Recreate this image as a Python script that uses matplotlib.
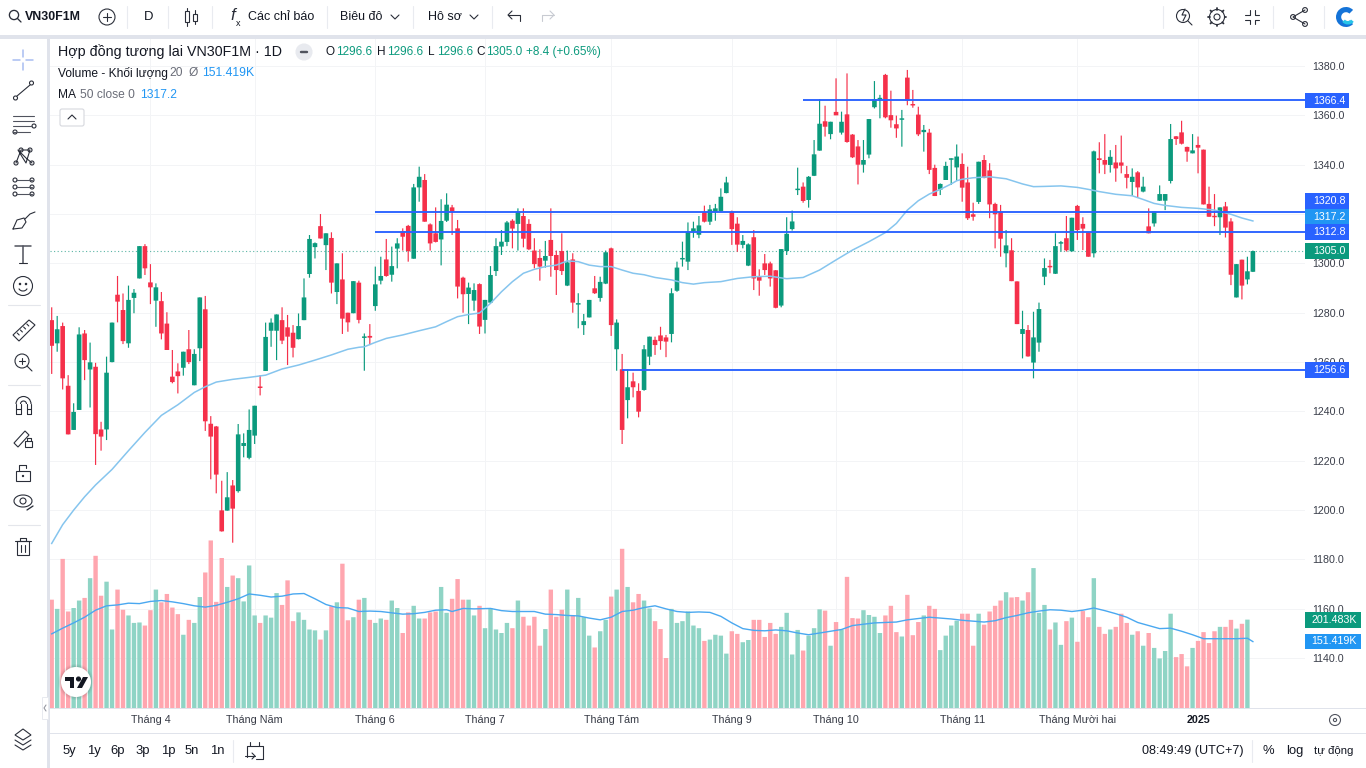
import numpy as np
import matplotlib
matplotlib.use("Agg")
import matplotlib.pyplot as plt
from matplotlib.patches import Circle, Rectangle, FancyBboxPatch, Polygon, Wedge, Arc

plt.rcParams['font.family'] = ['Liberation Sans', 'DejaVu Sans']

opens = [
1277.0,1267.6,1274.6,1250.4,1232.5,1240.6,1271.6,1257.0,1258.1,1232.7,
1232.7,1260.0,1287.3,1281.1,1267.6,1286.0,1293.9,1307.0,1292.3,1284.9,
1284.7,1275.6,1254.1,1256.2,1257.7,1265.2,1250.6,1265.6,1281.4,1235.0,
1233.9,1199.9,1199.8,1210.0,1207.7,1226.0,1221.2,1230.2,1250.0,1256.4,
1272.7,1272.7,1277.0,1274.1,1271.9,1269.3,1277.0,1295.7,1306.6,1315.1,
1307.4,1310.3,1288.4,1293.5,1280.0,1279.8,1292.2,1269.8,1270.6,1282.7,
1293.0,1301.6,1295.4,1306.0,1313.0,1315.2,1301.9,1330.8,1333.8,1315.8,
1312.2,1309.7,1317.3,1322.7,1314.2,1294.2,1287.6,1284.9,1291.6,1277.1,
1284.1,1296.9,1306.8,1308.7,1317.3,1316.0,1319.2,1316.0,1305.2,1302.2,
1301.1,1309.5,1303.4,1305.0,1291.0,1301.6,1283.3,1275.0,1278.1,1289.9,
1286.0,1291.8,1306.1,1265.2,1257.1,1244.6,1252.2,1248.3,1248.7,1262.2,
1269.0,1270.8,1270.0,1271.4,1288.9,1301.6,1300.7,1312.9,1311.6,1320.8,
1316.9,1320.9,1321.2,1328.5,1320.9,1316.1,1307.5,1299.1,1310.6,1294.6,
1300.0,1300.0,1297.2,1282.9,1305.0,1313.9,1329.7,1331.1,1325.7,1335.5,
1345.7,1357.6,1352.4,1361.4,1353.0,1360.4,1352.2,1347.4,1340.0,1344.1,
1363.3,1366.5,1376.4,1360.1,1356.4,1358.2,1375.3,1364.6,1360.3,1353.2,
1353.0,1338.7,1329.9,1333.8,1342.0,1338.9,1340.3,1332.8,1319.9,1324.9,
1341.9,1337.7,1324.1,1321.0,1304.1,1305.3,1292.7,1271.4,1273.0,1259.8,
1267.9,1294.6,1298.9,1295.8,1308.0,1310.2,1304.9,1323.3,1316.0,1312.6,
1304.1,1342.6,1341.9,1339.9,1340.9,1340.9,1336.2,1333.0,1336.9,1329.1,
1315.0,1316.2,1325.4,1325.4,1333.4,1351.5,1353.1,1347.2,1344.6,1348.0,
1346.1,1324.1,1319.2,1318.7,1323.1,1317.0,1286.2,1301.5,1293.5,1296.6]

highs = [
1282.2,1278.7,1276.0,1254.7,1243.3,1274.1,1273.0,1267.9,1259.7,1235.8,
1262.2,1276.0,1294.9,1287.8,1291.0,1289.6,1307.0,1307.8,1299.7,1291.9,
1288.4,1280.2,1264.9,1259.5,1264.2,1273.0,1265.2,1286.2,1286.8,1238.1,
1234.1,1211.9,1215.4,1212.2,1234.9,1231.1,1240.8,1242.3,1254.7,1276.0,
1277.7,1279.3,1282.2,1279.1,1275.0,1279.7,1293.9,1311.5,1308.5,1320.0,
1312.2,1312.6,1300.0,1304.1,1280.0,1292.8,1293.0,1271.6,1275.4,1298.7,
1302.7,1309.9,1306.8,1310.2,1314.2,1315.6,1332.2,1339.2,1336.2,1316.2,
1322.7,1326.0,1328.4,1323.7,1317.6,1294.6,1292.2,1291.9,1291.9,1285.2,
1298.9,1310.2,1313.5,1317.2,1317.9,1322.3,1322.3,1317.9,1310.2,1305.7,
1309.1,1322.3,1305.2,1312.2,1305.2,1304.1,1287.9,1279.5,1285.2,1294.9,
1294.6,1305.2,1306.4,1277.3,1263.3,1257.1,1255.7,1251.4,1266.9,1270.3,
1270.3,1274.3,1271.0,1289.9,1300.7,1308.8,1316.6,1316.9,1319.2,1323.4,
1323.7,1324.1,1330.4,1335.1,1321.4,1318.7,1311.5,1308.1,1313.5,1297.6,
1303.8,1300.7,1297.3,1305.8,1318.7,1321.4,1338.8,1332.8,1335.4,1350.0,
1366.6,1363.9,1357.4,1375.0,1361.5,1377.0,1352.4,1350.0,1350.0,1358.5,
1373.9,1368.3,1376.8,1370.0,1359.9,1362.2,1378.4,1370.3,1363.5,1356.1,
1354.5,1340.0,1332.4,1341.2,1342.6,1348.2,1344.6,1339.2,1324.6,1341.2,
1343.9,1340.6,1324.6,1323.7,1313.5,1310.2,1292.7,1280.8,1275.0,1280.4,
1284.1,1302.0,1301.4,1312.2,1309.1,1319.2,1318.5,1323.7,1318.7,1312.8,
1345.7,1349.1,1352.4,1345.9,1348.0,1351.8,1339.5,1338.5,1337.4,1335.1,
1322.3,1321.0,1331.6,1328.1,1356.5,1351.6,1357.8,1347.3,1352.4,1351.4,
1346.1,1331.1,1328.1,1322.7,1324.9,1318.3,1299.7,1301.5,1302.7,1305.2]

lows = [
1255.2,1264.2,1248.9,1230.7,1232.5,1240.6,1252.7,1241.6,1218.3,1224.1,
1228.4,1259.9,1276.1,1267.3,1265.8,1279.8,1293.9,1295.3,1283.5,1274.3,
1269.2,1264.9,1251.4,1247.3,1254.5,1259.2,1250.6,1260.4,1232.1,1212.5,
1206.8,1191.3,1199.8,1186.8,1207.1,1221.4,1220.6,1226.8,1246.5,1256.4,
1266.2,1260.8,1267.3,1258.8,1261.9,1269.2,1277.0,1294.2,1302.0,1310.1,
1297.3,1287.8,1283.5,1271.4,1272.3,1279.8,1275.7,1256.5,1266.9,1280.8,
1291.5,1294.6,1292.6,1298.0,1305.2,1300.7,1301.9,1325.0,1316.9,1305.2,
1308.5,1299.2,1316.8,1311.5,1285.8,1280.0,1275.4,1280.8,1271.4,1271.6,
1283.8,1294.9,1303.4,1307.0,1306.1,1305.2,1306.5,1305.4,1298.0,1293.0,
1298.3,1294.6,1287.2,1295.3,1290.8,1280.0,1273.7,1271.0,1278.1,1287.6,
1284.5,1291.6,1270.6,1256.5,1226.8,1237.2,1245.7,1237.6,1248.4,1258.8,
1262.9,1265.0,1262.0,1268.0,1288.5,1298.7,1297.3,1310.4,1310.2,1316.6,
1315.6,1317.3,1320.9,1328.4,1307.5,1304.7,1306.1,1298.9,1289.2,1286.9,
1295.3,1290.6,1281.8,1282.2,1303.4,1313.3,1327.7,1324.6,1322.6,1335.4,
1345.7,1351.4,1350.3,1360.1,1352.2,1348.9,1342.7,1332.0,1336.8,1342.6,
1362.8,1358.8,1358.8,1355.0,1350.9,1347.3,1364.1,1363.1,1351.6,1345.3,
1336.2,1327.3,1327.7,1333.8,1331.8,1333.5,1325.0,1317.6,1317.3,1324.1,
1334.5,1318.3,1306.1,1302.7,1298.4,1292.8,1275.4,1261.5,1262.2,1253.4,
1264.2,1291.2,1296.0,1295.7,1304.8,1304.8,1304.8,1309.5,1305.4,1302.7,
1302.4,1336.5,1336.2,1336.8,1333.1,1336.5,1330.4,1327.4,1326.6,1328.8,
1312.2,1314.9,1325.3,1321.6,1332.4,1348.0,1348.2,1341.2,1344.6,1336.5,
1323.9,1318.9,1315.1,1311.5,1310.5,1291.2,1286.2,1285.4,1291.5,1296.5]

closes = [
1266.6,1273.3,1253.4,1230.7,1239.8,1271.2,1260.8,1259.9,1230.8,1229.8,
1255.7,1276.0,1284.5,1268.5,1285.2,1288.1,1307.0,1298.0,1290.3,1290.3,
1271.6,1264.9,1251.9,1254.3,1264.2,1260.0,1263.3,1286.2,1236.0,1229.8,
1214.4,1191.4,1205.2,1200.6,1230.7,1227.2,1232.5,1242.3,1249.5,1270.2,
1276.0,1279.3,1268.7,1270.3,1265.8,1274.6,1286.2,1309.9,1308.2,1310.1,
1312.2,1292.2,1300.0,1277.6,1276.1,1292.8,1277.1,1270.2,1269.9,1291.5,
1294.9,1294.9,1298.9,1308.1,1310.8,1305.0,1330.8,1335.1,1316.9,1308.1,
1308.7,1317.2,1323.8,1321.0,1290.6,1287.5,1290.2,1289.2,1274.4,1285.2,
1295.3,1307.0,1308.8,1316.6,1314.1,1321.0,1310.0,1305.7,1299.7,1298.7,
1303.0,1303.0,1297.3,1296.9,1300.4,1284.1,1283.7,1276.6,1285.2,1287.9,
1292.5,1304.5,1275.0,1276.0,1232.5,1249.8,1249.8,1239.9,1265.2,1270.3,
1266.9,1268.5,1268.3,1287.9,1298.3,1302.2,1312.9,1314.2,1315.4,1316.9,
1321.9,1322.3,1327.0,1332.8,1313.9,1307.6,1309.1,1307.7,1293.9,1293.0,
1297.3,1293.9,1282.0,1305.8,1312.0,1317.0,1330.3,1325.3,1335.1,1344.2,
1356.6,1355.4,1357.4,1360.0,1357.4,1349.2,1343.0,1340.0,1341.9,1358.5,
1366.5,1366.8,1359.2,1358.0,1354.7,1358.6,1365.9,1364.0,1352.3,1354.1,
1337.9,1327.3,1332.2,1339.5,1342.4,1343.3,1330.7,1318.3,1318.9,1341.2,
1334.6,1323.9,1319.9,1310.0,1307.3,1292.8,1275.4,1273.4,1262.3,1270.0,
1281.5,1298.1,1298.4,1307.0,1308.4,1305.3,1318.5,1313.5,1314.1,1302.7,
1345.4,1341.9,1340.0,1343.2,1338.5,1339.6,1334.7,1335.1,1330.8,1331.1,
1312.2,1321.0,1328.1,1328.1,1350.4,1350.4,1348.5,1345.3,1345.8,1346.9,
1323.9,1318.9,1318.7,1322.7,1314.5,1295.4,1299.7,1291.0,1296.8,1305.0]

volumes_k = [
247,226,340,220,228,245,251,296,347,256,
288,179,270,224,211,194,195,188,223,270,
241,260,229,214,167,201,194,253,309,382,
242,342,276,302,296,243,325,211,194,211,
206,262,235,291,198,218,201,179,177,156,
177,232,241,329,200,207,247,251,201,194,
204,201,245,228,171,218,233,204,204,218,
220,276,217,249,294,247,247,211,233,182,
227,179,171,194,182,245,208,188,208,142,
180,270,208,224,270,211,251,207,165,138,
175,201,254,270,363,276,241,260,245,227,
198,180,114,226,194,198,220,188,182,153,
156,167,165,124,175,169,150,155,201,201,
162,194,169,185,217,122,178,131,165,182,
225,222,142,196,179,299,205,204,223,212,
208,171,211,233,173,163,258,166,196,211,
233,226,132,165,188,199,215,215,142,215,
190,220,233,245,264,252,253,245,264,319,
217,235,179,195,144,198,206,151,221,207,
296,185,169,179,185,215,194,167,175,142,
171,137,113,130,215,116,123,95,137,153,
173,148,175,185,185,201,181,192,201.5]

ma50_bars = [1,3,5,7,9,12,15,18,21,24,27,29,31,34,37,40,43,46,49,52,55,57,58,60,62,65,68,71,73,75,
77,79,81,83,85,87,89,91,93,95,97,99,101,103,105,107,109,111,114,116,118,120,123,126,129,132,135,
138,141,144,147,150,153,155,157,159,161,163,165,166,167,169,172,175,178,180,182,185,188,190,192,
195,198,200,202,204,207,210,213,216,218,220]
ma50_vals = [1186.5,1194.1,1200.0,1205.4,1210.2,1216.5,1224.1,1231.5,1238.4,1242.7,1247.7,1250.0,
1251.9,1253.0,1253.8,1254.7,1257.2,1258.8,1260.8,1262.9,1265.2,1266.0,1266.2,1268.0,1269.6,1271.0,
1272.7,1274.3,1276.4,1278.4,1279.3,1279.9,1283.8,1288.5,1292.6,1296.0,1297.6,1298.7,1299.3,1301.0,
1300.7,1299.3,1298.7,1298.7,1297.3,1296.0,1295.4,1294.3,1293.3,1292.2,1291.6,1292.2,1292.6,1293.9,
1294.6,1294.8,1293.8,1294.3,1297.3,1301.4,1305.4,1308.8,1312.5,1316.2,1321.6,1325.4,1328.1,1330.0,
1332.2,1333.5,1334.1,1334.7,1335.1,1334.3,1332.2,1331.1,1331.2,1331.4,1330.8,1330.0,1329.1,1328.0,
1327.4,1325.9,1324.3,1323.5,1322.7,1322.3,1321.6,1319.9,1318.4,1317.2]

vol_ma_bars = [1,3,5,7,9,11,13,15,17,19,21,23,25,27,29,31,33,35,37,39,41,43,45,47,49,51,53,55,57,59,
61,63,65,67,69,71,73,74,76,78,81,83,85,87,89,91,93,95,97,99,101,103,105,107,109,111,113,115,117,119,
121,123,125,127,129,131,133,135,137,139,141,143,145,147,149,151,153,155,157,159,161,163,165,167,169,
171,173,175,177,179,181,183,185,187,189,191,193,195,197,199,201,203,205,207,209,211,213,215,217,219,220]
vol_ma_vals = [169,182,194,207,223,233,235,239,238,243,245,242,238,233,230,234,241,249,260,257,253,255,
260,261,249,236,229,228,220,221,220,217,214,215,218,223,224,220,227,226,227,222,220,220,220,214,213,
211,210,205,201,207,220,223,229,233,226,220,218,219,218,209,194,181,177,176,178,176,171,167,171,175,
179,188,191,194,195,196,201,204,207,205,203,200,198,196,199,206,211,217,221,224,223,220,223,228,222,
215,207,195,188,181,182,175,167,158,158,158,158,159,151.4]

price_ticks = [1140,1160,1180,1200,1220,1240,1260,1280,1300,1320,1340,1360,1380]
hlines = {"1366.4": (1366.4, 138), "1320.8": (1320.8, 60), "1312.8": (1312.8, 60), "1256.6": (1256.6, 105)}
month_bars = [19, 38, 60, 80, 103, 125, 144, 167, 188, 210]
month_labels = ["Tháng 4", "Tháng Năm", "Tháng 6", "Tháng 7", "Tháng Tám", "Tháng 9",
                "Tháng 10", "Tháng 11", "Tháng Mười hai", "2025"]
last_close = 1305.0

W, H = 1366, 768
RED, GREEN = "#F5304A", "#0B9A7D"
VRED, VGREEN = "#FFA6AF", "#8FD4C5"
BLUE, LBLUE = "#2962FF", "#2196F3"
DARK, GRAY = "#131722", "#6A6D78"
BAND = "#E0E3EB"
GRID = "#F3F4F6"
PX = 0.72  # one pixel in points at dpi 100

fig = plt.figure(figsize=(W/100, H/100), dpi=100, facecolor="white")
L, R, T, B = 50, 1305, 38, 708
rect = [L/W, 1-B/H, (R-L)/W, (B-T)/H]
ax_v = fig.add_axes(rect, facecolor="white", zorder=1)
ax = fig.add_axes(rect, facecolor="none", zorder=2)

x = np.arange(1, len(closes)+1)
xlim = (0.69, 229.5)
for a in (ax_v, ax):
    a.set_xlim(*xlim)
    for s in a.spines.values():
        s.set_visible(False)
# scales: 2.467 px per price point and about 2.28 thousand contracts per px
ax.set_ylim(1119.8, 1391.35)
ax_v.set_ylim(0, 1527.6)

# grid (drawn under volume)
ax_v.set_yticks([])
ax_v.set_xticks([])
for b in month_bars:
    ax_v.axvline(b, color=GRID, lw=PX, zorder=0)
for p in price_ticks:
    frac = (p-1119.8)/(1391.35-1119.8)
    ax_v.axhline(frac*1527.6, color=GRID, lw=PX, zorder=0)

# volume
o = np.array(opens); c = np.array(closes); h = np.array(highs); l = np.array(lows)
v = np.array(volumes_k)
vx = x[:len(v)]
vbars = ax_v.bar(vx, v, width=0.8, color=[VGREEN if c[i] >= o[i] else VRED for i in range(len(v))],
                 linewidth=0, zorder=1)
for r_ in vbars:
    r_.set_snap(False)
ax_v.plot(vol_ma_bars, vol_ma_vals, color="#4AA8F0", lw=1.0, zorder=2)

# price axis
ax.set_xticks([])
ax.yaxis.tick_right()
ax.set_yticks(price_ticks)
ax.set_yticklabels([f"{p:.1f}" for p in price_ticks], fontsize=7.7, color="#3A3E4A")
ax.tick_params(axis="y", length=0, pad=5.4)

# candles
col = np.where(c >= o, GREEN, RED)
wk = ax.vlines(x, l, h, colors=col, lw=0.85, zorder=3)
wk.set_snap(False)
body_top = np.maximum(o, c); body_bot = np.minimum(o, c)
cbars = ax.bar(x, np.maximum(body_top-body_bot, 0.6), bottom=body_bot, width=0.84, color=col, linewidth=0, zorder=4)
for r_ in cbars:
    r_.set_snap(False)

ax.plot(ma50_bars, ma50_vals, color="#86C5EE", lw=1.1, zorder=5)
ax.axhline(last_close, color="#5BB5A5", lw=0.8, ls=(0, (1, 2.2)), zorder=2)
for name, (val, start) in hlines.items():
    ax.plot([start, xlim[1]], [val, val], color=BLUE, lw=1.35, zorder=6, solid_capstyle="butt")

# ---------- interface layer, in pixel coordinates ----------
ui = fig.add_axes([0, 0, 1, 1], facecolor="none", zorder=5)
ui.set_xlim(0, W); ui.set_ylim(H, 0); ui.axis("off")

def txt(px, py, s, size=12, color=DARK, ha="left", weight="normal", **k):
    return ui.text(px, py, s, fontsize=size*0.72, color=color, ha=ha, va="center", fontweight=weight, **k)

def ln(xs, ys, color="#2A2E39", lw=1.0, **k):
    ui.plot(xs, ys, color=color, lw=lw*PX*1.1, solid_capstyle="round", **k)

def circ(cx, cy, r, color="#2A2E39", fc="none", lw=1.0):
    ui.add_patch(Circle((cx, cy), r, ec=color, fc=fc, lw=lw*PX*1.1))

def box(x0, y0, x1, y1, fc, ec="none"):
    ui.add_patch(Rectangle((x0, y0), x1-x0, y1-y0, fc=fc, ec=ec, lw=0.7))

# bands
box(0, 35, W, 38.5, BAND)
box(47, 38, 49.5, H, BAND)
box(50, 708, W, 709, BAND)
box(50, 733, W, 734, BAND)

# top toolbar
for sx in [127, 168, 212, 327, 413, 492, 1163, 1273, 1324]:
    ln([sx, sx], [6, 28], color="#E9EBF0")
circ(14, 15, 4.6, lw=1.2); ln([17.4, 21], [18.4, 22], lw=1.2)
txt(25, 17, "VN30F1M", 12.4, weight="bold")
circ(107, 17, 8); ln([103, 111], [17, 17]); ln([107, 107], [13, 21])
txt(149, 17, "D", 13, ha="center")
# candle icon
ln([187, 187], [8, 26]); ui.add_patch(Rectangle((185, 11), 4, 11, fc="white", ec="#2A2E39", lw=0.8, zorder=5))
ln([195, 195], [10, 24]); ui.add_patch(Rectangle((193, 14), 4, 7, fc="white", ec="#2A2E39", lw=0.8, zorder=5))
txt(233, 15, "f", 17, ha="center", style="italic", color="#2A2E39"); txt(238, 24, "x", 9, ha="center")
txt(248, 17, "Các chỉ báo", 12.5)
txt(340, 17, "Biêu đô", 12.5); ln([391, 395, 399], [15, 19, 15])
txt(428, 17, "Hô sơ", 12.5); ln([470, 474, 478], [15, 19, 15])
ln([508, 520, 520], [15, 15, 21]); ln([512, 508, 512], [11, 15, 19])
ln([554, 542, 542], [15, 15, 21], color="#C8CBD2"); ln([550, 554, 550], [11, 15, 19], color="#C8CBD2")
# right icons
circ(1183, 16, 6.5); ln([1188, 1192], [21, 25]); ln([1185, 1182, 1186, 1183], [9, 15, 15, 21], color="#2A2E39")
circ(1217, 17, 3); circ(1217, 17, 7.5)
for ang in np.arange(0, 360, 45):
    ca, sa = np.cos(np.radians(ang)), np.sin(np.radians(ang))
    ln([1217+7.5*ca, 1217+9.2*ca], [17+7.5*sa, 17+9.2*sa], lw=1.6)
for sx, sy in [(-1, -1), (1, -1), (-1, 1), (1, 1)]:
    ln([1252+sx*7, 1252+sx*2.5, 1252+sx*2.5], [17+sy*2.5, 17+sy*2.5, 17+sy*7])
ln([1305, 1293, 1305], [10, 17, 24]);
for cx, cy in [(1305, 10), (1293, 17), (1305, 24)]:
    circ(cx, cy, 2.4, fc="white")
ui.add_patch(Wedge((1346, 17), 10, 45, 315, width=5.2, fc="#1473D8", ec="none"))
ui.add_patch(Wedge((1348, 17), 7.5, 40, 140, width=3.5, fc="#27C4E8", ec="none"))

# legend
txt(58, 52, "Hợp đồng tương lai VN30F1M · 1D", 14.2)
circ(304, 52, 8, color="#E8EAEF", fc="#E8EAEF"); ln([301, 307], [52, 52], color="#50535E", lw=2.2)
for px, s, cl in [(326, "O", DARK), (336.5, "1296.6", GREEN), (377, "H", DARK), (387, "1296.6", GREEN),
                  (428, "L", DARK), (437, "1296.6", GREEN), (476, "C", DARK), (486.5, "1305.0", GREEN),
                  (526, "+8.4 (+0.65%)", GREEN)]:
    txt(px, 52, s, 11.7, color=cl)
txt(58, 73, "Volume - Khối lượng", 12)
txt(169, 73, "20", 12, color=GRAY); txt(189, 73, "Ø", 12, color=GRAY)
txt(202, 73, "151.419K", 12.2, color=LBLUE)
txt(58, 95, "MA", 12); txt(80, 95, "50 close 0", 12, color=GRAY); txt(140, 95, "1317.2", 12, color=LBLUE)
ui.add_patch(FancyBboxPatch((60, 109), 24, 17, boxstyle="round,pad=0,rounding_size=2", fc="white", ec="#D6D8DE", lw=0.8))
ln([68, 72, 76], [119, 115, 119])

# price labels
for y0, y1, s, fc, xr in [(93, 108, "1366.4", BLUE, 1349), (193, 209, "1320.8", BLUE, 1349),
                          (209, 225, "1317.2", LBLUE, 1349), (224, 240, "1312.8", BLUE, 1349),
                          (243, 259, "1305.0", GREEN, 1349), (362, 378, "1256.6", BLUE, 1349),
                          (612, 628, "201.483K", GREEN, 1361), (634, 649, "151.419K", LBLUE, 1361)]:
    box(1305, y0, xr, y1, fc)
    txt(1313 if xr == 1349 else 1311.5, (y0+y1)/2, s, 10.6, color="white")

# bottom axis labels
frac_x = lambda b: L + (b-xlim[0])/(xlim[1]-xlim[0])*(R-L)
for b, s in zip(month_bars, month_labels):
    bold = s == "2025"
    txt(frac_x(b), 720, s, 10.7, color="#363A45" if not bold else DARK, ha="center", weight="bold" if bold else "normal")
circ(1335, 720, 5.5, color="#50535E"); circ(1335, 720, 1.6, color="#50535E")

# bottom bar
for px, s in zip([69, 94, 118, 143, 168, 192, 217], ["5y", "1y", "6p", "3p", "1p", "5n", "1n"]):
    txt(px, 751, s, 13, ha="center")
ln([233, 233], [740, 762], color="#E9EBF0")
ln([247, 247, 263, 263, 256], [757, 746, 746, 759, 759]); ln([250, 250], [742, 746]); ln([259, 259], [742, 746])
ln([245, 255], [756, 756]); ln([252, 255, 252], [753, 756, 759])
txt(1244, 751, "08:49:49 (UTC+7)", 12.6, ha="right")
ln([1252, 1252], [740, 762], color="#E9EBF0")
txt(1268, 751, "%", 13, ha="center"); txt(1294.5, 751, "log", 13, ha="center"); txt(1333.5, 751, "tự động", 11.4, ha="center")

# logo
for r, a in [(18, 0.03), (17, 0.04), (16, 0.05)]:
    ui.add_patch(Circle((76, 682), r, fc="black", ec="none", alpha=a))
ui.add_patch(Circle((76, 682), 15, fc="white", ec="none"))
box(65, 677, 74, 681, "#131722"); box(69.5, 677, 74, 688, "#131722")
circ(78.5, 679, 2, color="#131722", fc="#131722")
ui.add_patch(Polygon([(83, 677), (88, 677), (82, 688), (77, 688)], fc="#131722", ec="none"))

# left drawing tools
crs = "#A9BEF2"
ln([13, 20], [60, 60], color=crs, lw=1.4); ln([26, 33], [60, 60], color=crs, lw=1.4)
ln([23, 23], [50, 57], color=crs, lw=1.4); ln([23, 23], [63, 70], color=crs, lw=1.4)
ln([17, 30], [96, 85]); circ(15.5, 98, 2, fc="white"); circ(31.5, 83, 2, fc="white")
for yy, w in [(116, 34), (121, 34), (126, 32), (132, 30)]:
    ln([13, w], [yy, yy], color="#50535E")
circ(34, 126, 2, fc="white"); circ(15, 132, 2, fc="white")
ln([16, 21, 30, 26, 21, 18, 26, 32], [163, 150, 150, 163, 155, 150, 158, 163], lw=1)
for cx, cy in [(16, 163), (21, 150), (30, 150), (32, 163)]:
    circ(cx, cy, 2, fc="white")
for yy in [180, 187, 194]:
    ln([16, 32], [yy, yy], color="#50535E"); circ(15, yy, 2, fc="white"); circ(32, yy, 2, fc="white")
ln([13, 17, 24, 26, 22, 13], [229, 220, 218, 222, 228, 229]); ln([25, 30, 35], [219, 214, 212])
ln([15, 31], [246, 246], color="#50535E", lw=1.4); ln([23, 23], [246, 263], color="#50535E", lw=1.4); ln([19, 27], [263, 263])
circ(23, 286, 9.5); circ(20, 284, 0.7, fc="#2A2E39"); circ(26, 284, 0.7, fc="#2A2E39")
ui.add_patch(Arc((23, 287), 9, 8, theta1=20, theta2=160, ec="#2A2E39", lw=0.8))
for yy in [305, 385, 525]:
    ln([8, 40], [yy, yy], color="#E4E6EB")
ui.add_patch(Polygon([(13, 335), (29, 320), (35, 325), (19, 341)], fc="none", ec="#2A2E39", lw=0.8))
for k in range(1, 5):
    ln([13+k*3.2+1, 13+k*3.2+3], [335-k*3+1, 335-k*3+3])
circ(22, 361, 7); ln([27, 32], [366, 371]); ln([19, 25], [361, 361]); ln([22, 22], [358, 364])
ln([16, 16], [414, 404]); ln([31, 31], [414, 404])
ui.add_patch(Arc((23.5, 404), 15, 15, theta1=180, theta2=360, ec="#2A2E39", lw=0.8))
ui.add_patch(Arc((23.5, 404), 6, 6, theta1=180, theta2=360, ec="#2A2E39", lw=0.8))
ln([20.5, 20.5], [404, 414]); ln([26.5, 26.5], [404, 414]); ln([16, 20.5], [414, 414]); ln([26.5, 31], [414, 414]); ln([16, 20.5], [409, 409]); ln([26.5, 31], [409, 409])
ui.add_patch(Polygon([(14, 443), (25, 431), (29, 435), (18, 447)], fc="none", ec="#2A2E39", lw=0.8))
ui.add_patch(Rectangle((25, 441), 7, 6, fc="none", ec="#2A2E39", lw=0.8)); ln([26.5, 26.5, 30.5, 30.5], [441, 438, 438, 441])
ui.add_patch(Rectangle((16, 471), 14, 10, fc="none", ec="#2A2E39", lw=0.8)); ln([19, 19, 26, 26], [471, 465, 465, 468]); circ(23, 476, 0.6, fc="#2A2E39")
ui.add_patch(Arc((23, 501), 18, 12, theta1=0, theta2=360, ec="#2A2E39", lw=0.8)); circ(23, 501, 3)
ln([27, 33], [510, 506], lw=1.2)
ln([15, 31], [541, 541]); ln([20, 20, 26, 26], [541, 538, 538, 541])
ui.add_patch(Rectangle((17, 541), 12, 14, fc="none", ec="#2A2E39", lw=0.8)); ln([21, 21], [545, 552]); ln([25, 25], [545, 552])
for d in [0, 5]:
    ln([15, 23, 31], [740+d, 745+d, 740+d])
ui.add_patch(Polygon([(23, 729), (31, 735), (23, 740), (15, 735)], fc="none", ec="#2A2E39", lw=0.8))
box(42, 697, 48, 719, "white", ec="#E8EAEF"); ln([46, 44, 46], [705, 708, 711], color="#9598A1")

fig.savefig("out.png", dpi=100, facecolor="white")
